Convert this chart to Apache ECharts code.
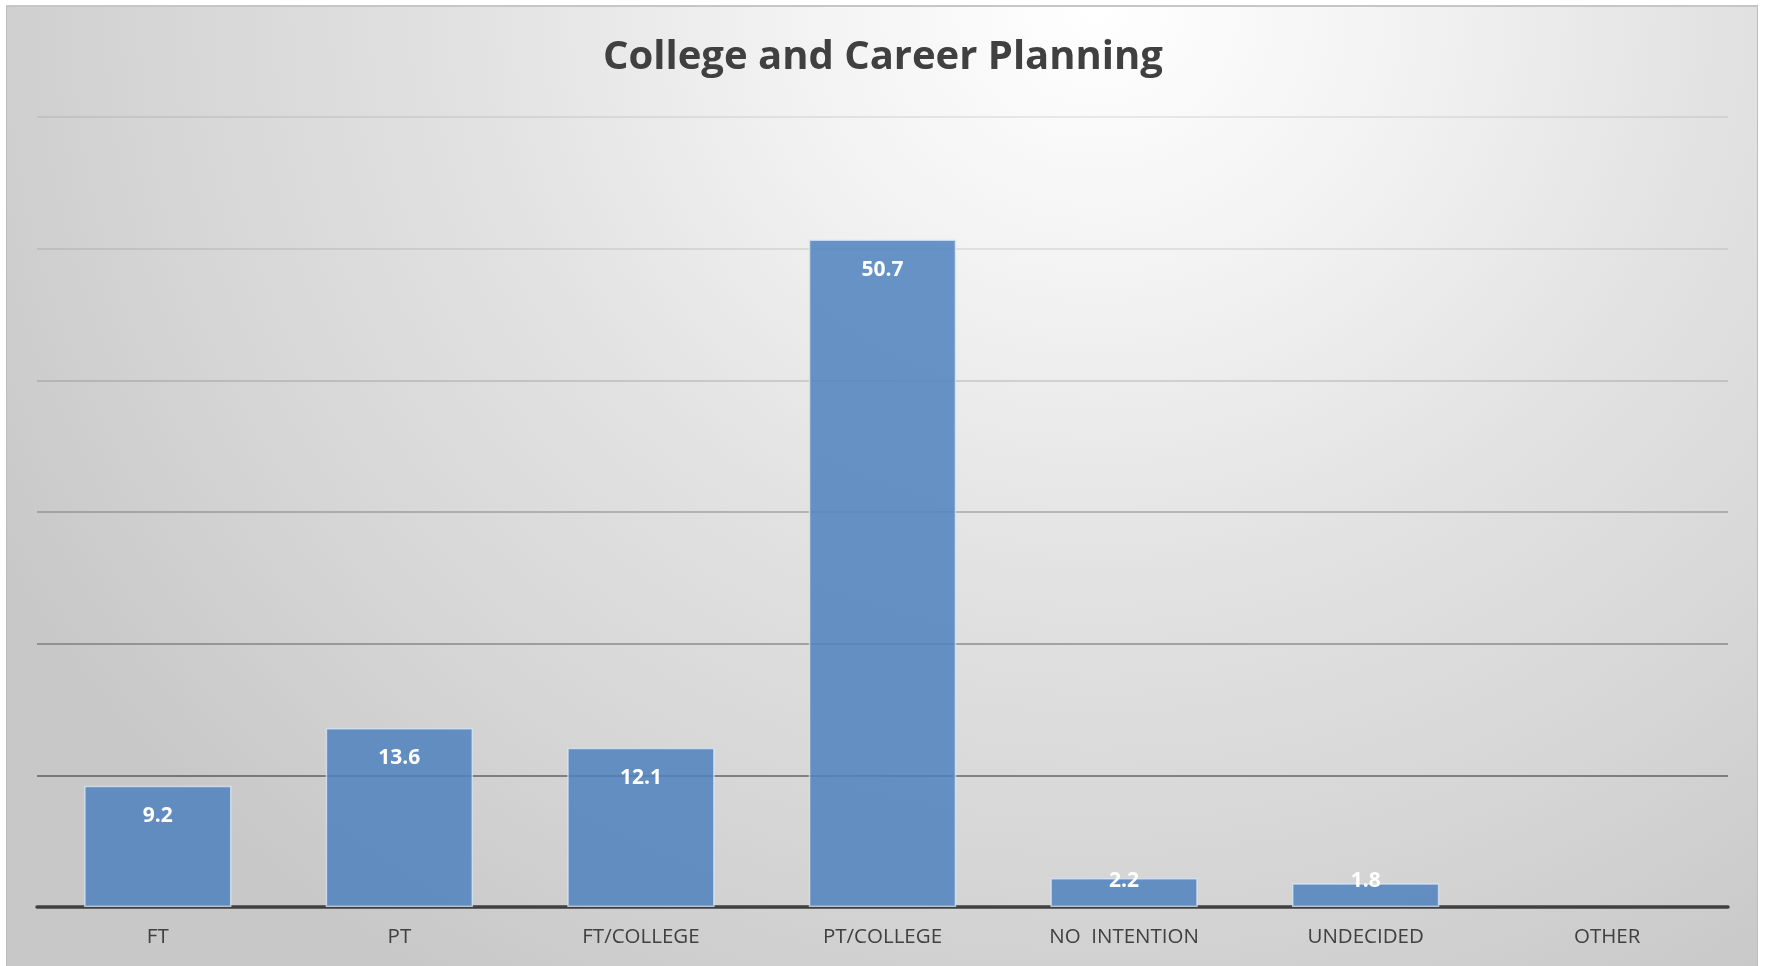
<!DOCTYPE html>
<html>
<head>
<meta charset="utf-8">
<script src="https://cdn.jsdelivr.net/npm/echarts@6/dist/echarts.min.js"></script>
<style>
  html, body { margin: 0; padding: 0; background: #ffffff; width: 1766px; height: 966px; overflow: hidden; }
  #frame {
    position: absolute; left: 6px; top: 5px; width: 1750px; height: 975px;
    border-left: 1px solid #bdbdbd; border-top: 2px solid #c6c6c6; border-right: 1px solid #bdbdbd;
    background: radial-gradient(ellipse 1250px 1150px at 1090px 0px, #ffffff 0%, #f2f2f2 25%, #e2e2e2 50%, #d6d6d6 75%, #c8c8c8 100%);
  }
  #chart { position: absolute; left: 0; top: 0; width: 1766px; height: 966px; }
</style>
</head>
<body>
<div id="frame"></div>
<div id="chart"></div>
<script>
const titleText = 'College and Career Planning';
const categories = ['FT', 'PT', 'FT/COLLEGE', 'PT/COLLEGE', 'NO  INTENTION', 'UNDECIDED', 'OTHER'];
const values = [9.2, 13.6, 12.1, 50.7, 2.2, 1.8, null];
const yTicks = [0, 10, 20, 30, 40, 50, 60];

const chart = echarts.init(document.getElementById('chart'), null, { renderer: 'canvas' });

const seriesData = values.map(v => (v !== null && v < 4.5) ? { value: v, label: { position: 'insideBottom', distance: 15 } } : v);

chart.setOption({
  backgroundColor: 'transparent',
  animation: false,
  title: {
    text: titleText,
    left: 'center',
    top: 33,
    textStyle: { fontFamily: 'Open Sans', fontWeight: 'bold', fontSize: 40, color: '#404040' }
  },
  grid: { left: 37, right: 38, top: 117, bottom: 59, containLabel: false },
  xAxis: {
    type: 'category',
    data: categories,
    axisLine: { show: true, lineStyle: { color: '#404040', width: 3.5 } },
    axisTick: { show: false },
    axisLabel: { color: '#404040', fontFamily: 'Open Sans', fontSize: 20.5, margin: 20 },
    splitLine: { show: false }
  },
  yAxis: {
    type: 'value',
    min: yTicks[0],
    max: yTicks[yTicks.length - 1],
    interval: 10,
    axisLine: { show: false },
    axisTick: { show: false },
    axisLabel: { show: false },
    splitLine: {
      show: true,
      lineStyle: {
        width: 2,
        color: ['rgba(0,0,0,0)', 'rgba(0,0,0,0.40)', 'rgba(0,0,0,0.27)', 'rgba(0,0,0,0.20)', 'rgba(0,0,0,0.12)', 'rgba(0,0,0,0.08)', 'rgba(0,0,0,0.07)']
      }
    }
  },
  series: [{
    type: 'bar',
    data: seriesData,
    barWidth: '61%',
    itemStyle: {
      color: 'rgba(79,129,189,0.85)',
      borderColor: 'rgba(220,232,245,0.75)',
      borderWidth: 1.5
    },
    label: {
      show: true,
      position: 'insideTop',
      distance: 20,
      color: '#ffffff',
      fontFamily: 'Open Sans',
      fontWeight: 'bold',
      fontSize: 21,
      formatter: p => (p.value === null || p.value === undefined) ? '' : String(p.value)
    }
  }]
});
</script>
</body>
</html>
